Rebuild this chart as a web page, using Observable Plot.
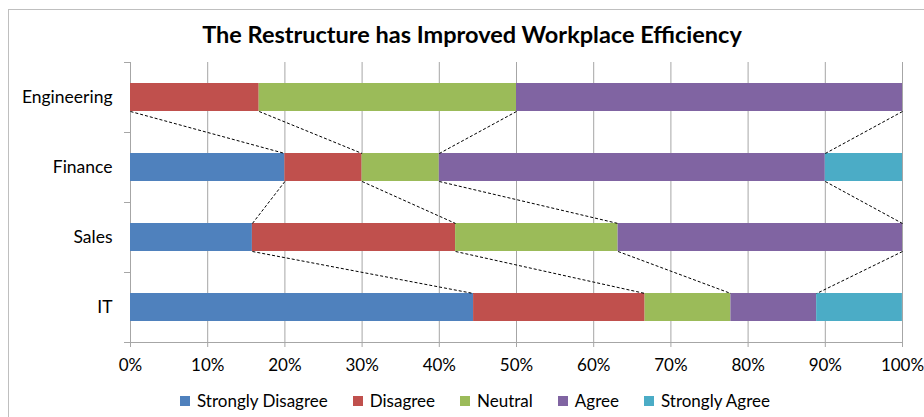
<!DOCTYPE html>
<html><head><meta charset="utf-8">
<script src="https://cdn.jsdelivr.net/npm/d3@7"></script>
<script src="https://cdn.jsdelivr.net/npm/@observablehq/plot@0.6"></script>
<style>
body{margin:0;background:#fff;font-family:Lato,sans-serif;overflow:hidden;}
#frame{position:absolute;left:8px;top:9px;width:940px;height:430px;border:1px solid #bfbfbf;}
#title{position:absolute;left:0;width:944px;top:20px;text-align:center;font:bold 23.5px Lato,sans-serif;color:#000;}
#chart{position:absolute;left:0;top:50px;}
#legend{position:absolute;top:390px;left:0;width:950px;display:flex;justify-content:center;font:17px Lato,sans-serif;color:#000;}
.item{display:flex;align-items:center;margin:0 12.5px;}
.sw{width:10px;height:10px;margin-right:7px;}
</style></head>
<body>
<div id="frame"></div>
<div id="title">The Restructure has Improved Workplace Efficiency</div>
<div id="chart"></div>
<div id="legend"></div>
<script>
const categories = ["Engineering", "Finance", "Sales", "IT"];
const series = ["Strongly Disagree", "Disagree", "Neutral", "Agree", "Strongly Agree"];
const colors = ["#4F81BD", "#C0504D", "#9BBB59", "#8064A2", "#4BACC6"];
const stronglyDisagree = [0, 20, 15.79, 44.44];
const disagree = [16.67, 10, 26.32, 22.22];
const neutral = [33.33, 10, 21.05, 11.11];
const agree = [50, 50, 36.84, 11.11];
const stronglyAgree = [0, 10, 0, 11.11];
const xTicks = [0, 10, 20, 30, 40, 50, 60, 70, 80, 90, 100];

const valuesBySeries = [stronglyDisagree, disagree, neutral, agree, stronglyAgree];
const half = 0.2;

// stacked segments
const segments = [];
const cums = categories.map((c, i) => {
  let cum = 0;
  const bounds = [];
  valuesBySeries.forEach((vals, s) => {
    const v = vals[i];
    if (v > 0) segments.push({i, series: series[s], x1: cum, x2: cum + v});
    cum += v;
    bounds.push(cum);
  });
  return bounds;
});

// series lines between adjacent categories
const links = [];
for (let i = 0; i < categories.length - 1; i++) {
  for (let k = 0; k < series.length - 1; k++) {
    links.push({i, x1: cums[i][k], x2: cums[i + 1][k]});
  }
}

const grid = "#a6a6a6";
const chart = Plot.plot({
  width: 924,
  height: 335,
  marginLeft: 130,
  marginRight: 22,
  marginTop: 12,
  marginBottom: 43,
  style: {fontFamily: "Lato, sans-serif", fontSize: "17px", color: "#000", background: "transparent"},
  x: {domain: [0, 100]},
  y: {domain: [-0.5, categories.length - 0.5], reverse: true},
  color: {domain: series, range: colors},
  marks: [
    Plot.gridX(xTicks, {stroke: grid, strokeOpacity: 1}),
    Plot.ruleY([categories.length - 0.5], {stroke: grid}),
    Plot.axisX({ticks: xTicks, tickSize: 5, tickPadding: 11, tickFormat: d => d + "%", stroke: grid, fill: "#000", fontSize: 17}),
    Plot.axisY({ticks: d3.range(-0.5, categories.length, 1), tickSize: 6, tickFormat: () => "", stroke: grid}),
    Plot.axisY({ticks: d3.range(categories.length), tickSize: 0, tickPadding: 18, tickFormat: i => categories[i], fill: "#000", fontSize: 17.5}),
    Plot.rect(segments, {x1: "x1", x2: "x2", y1: d => d.i - half, y2: d => d.i + half, fill: "series"}),
    Plot.link(links, {x1: "x1", x2: "x2", y1: d => d.i + half, y2: d => d.i + 1 - half, stroke: "#000", strokeWidth: 1, strokeDasharray: "3,2"})
  ]
});
document.getElementById("chart").appendChild(chart);

const legend = document.getElementById("legend");
series.forEach((s, k) => {
  const item = document.createElement("div");
  item.className = "item";
  const sw = document.createElement("span");
  sw.className = "sw";
  sw.style.background = colors[k];
  const t = document.createElement("span");
  t.textContent = s;
  item.appendChild(sw);
  item.appendChild(t);
  legend.appendChild(item);
});
</script>
</body></html>
